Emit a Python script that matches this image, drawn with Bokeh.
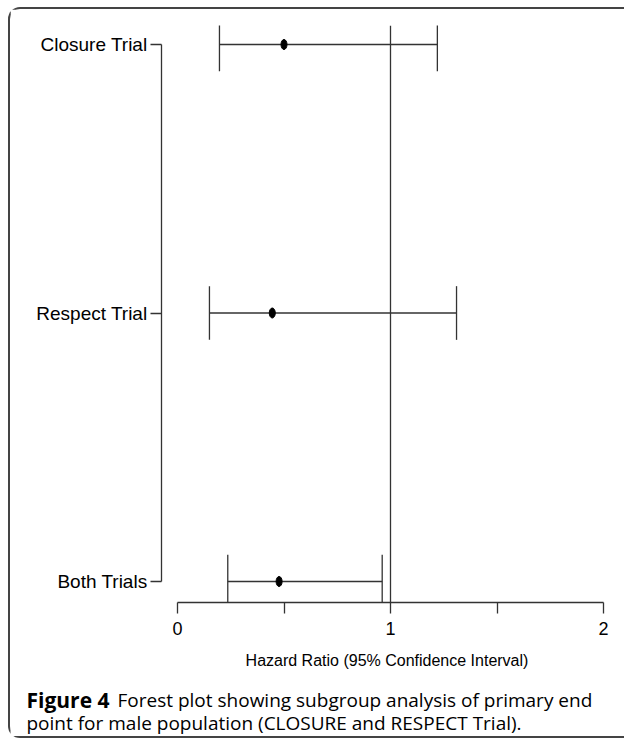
from bokeh.plotting import figure
from bokeh.layouts import column
from bokeh.models import Range1d, LinearAxis, FixedTicker, Span, Label, ColumnDataSource
from bokeh.embed import file_html
from bokeh.resources import INLINE

# ---- data ----
trials = ["Closure Trial", "Respect Trial", "Both Trials"]
ypos = [3, 2, 1]
hr = [0.50, 0.445, 0.477]
lo = [0.197, 0.150, 0.236]
hi = [1.22, 1.31, 0.961]
x_ticks = [0, 0.5, 1, 1.5, 2]
x_tick_labels = ["0", "", "1", "", "2"]
axis_title = "Hazard Ratio (95% Confidence Interval)"
caption_bold = "Figure 4"
caption_line1 = "Forest plot showing subgroup analysis of primary end"
caption_line2 = "point for male population (CLOSURE and RESPECT Trial)."

CAP = 0.1
LINE = "#333333"
FONT = "Liberation Sans"

src = ColumnDataSource(dict(
    y=ypos, hr=hr, lo=lo, hi=hi,
    ylo=[v - CAP for v in ypos], yhi=[v + CAP for v in ypos],
))

W = 614
p = figure(width=W, height=672,
           x_range=Range1d(-0.07512, 2.04225), y_range=Range1d(0.9218, 3.0708),
           output_backend="svg", toolbar_location=None,
           x_axis_type=None, y_axis_type=None,
           min_border_left=151, min_border_right=12,
           min_border_top=16, min_border_bottom=79)
p.frame_align = False
p.outline_line_color = None
p.background_fill_color = "white"
p.border_fill_color = "white"

# reference line at HR = 1
p.add_layout(Span(location=1, dimension="height", line_color=LINE, line_width=1.3))

# confidence intervals
p.segment(x0="lo", x1="hi", y0="y", y1="y", source=src, line_color=LINE, line_width=1.3)
p.segment(x0="lo", x1="lo", y0="ylo", y1="yhi", source=src, line_color=LINE, line_width=1.3)
p.segment(x0="hi", x1="hi", y0="ylo", y1="yhi", source=src, line_color=LINE, line_width=1.3)
# point estimates
p.ellipse(x="hr", y="y", width=6, height=10, width_units="screen", height_units="screen",
          source=src, fill_color="black", line_color="black")

# x axis
xa = LinearAxis(ticker=FixedTicker(ticks=x_ticks),
                major_label_overrides={t: l for t, l in zip(x_ticks, x_tick_labels)},
                bounds=(x_ticks[0], x_ticks[-1]),
                axis_label=axis_title)
xa.axis_line_color = LINE
xa.axis_line_width = 1.3
xa.major_tick_line_color = LINE
xa.major_tick_line_width = 1.3
xa.major_tick_out = 11
xa.major_tick_in = 0
xa.minor_tick_line_color = None
xa.major_label_text_font = FONT
xa.major_label_text_font_size = "18px"
xa.major_label_text_color = "black"
xa.major_label_standoff = 8
xa.axis_label_text_font = FONT
xa.axis_label_text_font_size = "16px"
xa.axis_label_text_font_style = "normal"
xa.axis_label_text_color = "black"
xa.axis_label_standoff = 14
p.add_layout(xa, "below")

# y axis (bracket style)
ya = LinearAxis(ticker=FixedTicker(ticks=ypos),
                major_label_overrides={v: t for v, t in zip(ypos, trials)},
                bounds=(min(ypos), max(ypos)))
ya.axis_line_color = LINE
ya.axis_line_width = 1.3
ya.major_tick_line_color = LINE
ya.major_tick_line_width = 1.3
ya.major_tick_out = 11
ya.major_tick_in = 0
ya.minor_tick_line_color = None
ya.major_label_text_font = FONT
ya.major_label_text_font_size = "19px"
ya.major_label_text_color = "black"
ya.major_label_standoff = 3
p.add_layout(ya, "left")

# caption (separate strip below the chart)
cap = figure(width=W, height=55, x_range=Range1d(0, 1), y_range=Range1d(0, 1),
             output_backend="svg", toolbar_location=None,
             x_axis_type=None, y_axis_type=None,
             min_border=0, min_border_left=0, min_border_right=0,
             min_border_top=0, min_border_bottom=0)
cap.frame_align = False
cap.outline_line_color = None
cap.background_fill_color = "white"
cap.border_fill_color = "white"
cap_font = "Open Sans"
cap.add_layout(Label(x=16, y=37, x_units="screen", y_units="screen", text=caption_bold,
                     text_font=cap_font, text_font_size="21px", text_font_style="bold",
                     text_baseline="alphabetic", text_color="black"))
cap.add_layout(Label(x=107, y=37, x_units="screen", y_units="screen", text=caption_line1,
                     text_font=cap_font, text_font_size="19px",
                     text_baseline="alphabetic", text_color="black"))
cap.add_layout(Label(x=16, y=14, x_units="screen", y_units="screen", text=caption_line2,
                     text_font=cap_font, text_font_size="19px",
                     text_baseline="alphabetic", text_color="black"))

layout = column(p, cap, spacing=0)
layout.styles = {
    "margin-top": "7px",
    "margin-left": "8px",
    "border-left": "2px solid #444444",
    "border-top": "2px solid #444444",
    "border-bottom": "2px solid #444444",
    "border-radius": "12px 0 0 12px",
}

open("out.html", "w").write(file_html(layout, INLINE))
